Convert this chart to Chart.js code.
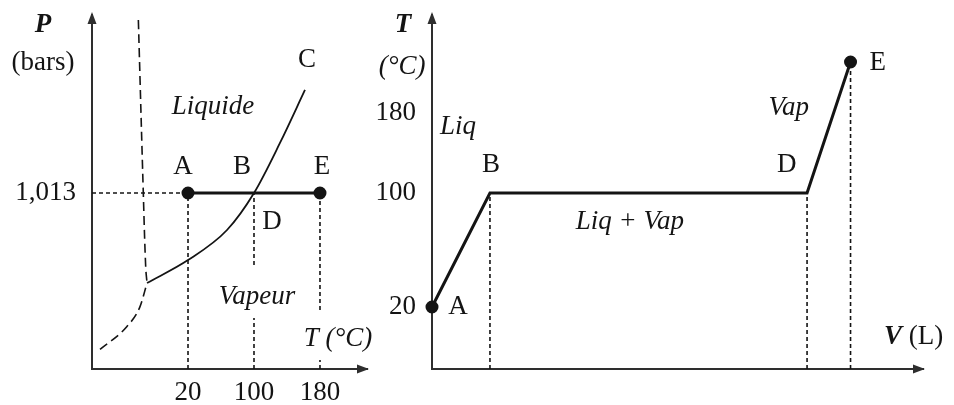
<!DOCTYPE html>
<html lang="fr">
<head>
<meta charset="utf-8">
<title>Diagramme de phases et courbe de chauffage de l'eau</title>
<script src="https://cdn.jsdelivr.net/npm/chart.js@4.4.1/dist/chart.umd.min.js"></script>
<style>
  html, body { margin: 0; padding: 0; background: #fff; }
  #wrap { position: relative; width: 954px; height: 405px; }
  #wrap canvas { position: absolute; left: 0; top: 0; }
</style>
</head>
<body>
<div id="wrap">
  <canvas id="phaseChart" width="954" height="405"></canvas>
  <canvas id="heatingChart" width="954" height="405"></canvas>
</div>
<script>
// left diagram: P (bars) against T (°C), schematic
const phaseTempTicks = [20, 100, 180];
const phasePressureTicks = [1.013];

const vapCurveT = [-29.7, 20, 67.3, 100, 131.5, 161.8];
const vapCurveP = [0.495, 0.627, 0.800, 1.013, 1.301, 1.606];
const fusCurveT = [-40.2, -34.2, -31.3, -29.7];
const fusCurveP = [2.009, 1.013, 0.587, 0.495];
const subCurveT = [-86.7, -54.3, -38.2, -29.7];
const subCurveP = [0.113, 0.243, 0.359, 0.495];

const isobarT = [20, 100, 180];   // A, B = D, E
const isobarP = 1.013;

// right diagram: T (°C) against V (L)
const heatingTempTicks = [20, 100, 180];
const heatingV = [0, 1, 6.47, 7.22];   // A, B, D, E
const heatingT = [20, 100, 100, 231];

const INK = '#141414';
const AXIS = '#2e2e2e';
const FONT = '"Liberation Serif", "Times New Roman", serif';

const pts = (xs, ys) => xs.map((x, i) => ({ x: x, y: Array.isArray(ys) ? ys[i] : ys }));
const seg = (x1, y1, x2, y2) => [{ x: x1, y: y1 }, { x: x2, y: y2 }];
const frenchNum = v => String(v).replace('.', ',');

// linear between fixed stops, the right T axis is not drawn to scale
class PiecewiseScale extends Chart.LinearScale {
  static id = 'piecewise';
  _find(arr, key, v) {
    let i = 1;
    while (i < arr.length - 1 && v > arr[i][key]) i++;
    return [arr[i - 1], arr[i]];
  }
  getPixelForValue(value) {
    if (value === null || isNaN(value)) return NaN;
    const [a, b] = this._find(this.options.stops, 0, value);
    return this.getPixelForDecimal(a[1] + (value - a[0]) * (b[1] - a[1]) / (b[0] - a[0]));
  }
  getValueForPixel(pixel) {
    const d = this.getDecimalForPixel(pixel);
    const [a, b] = this._find(this.options.stops, 1, d);
    return a[0] + (d - a[1]) * (b[0] - a[0]) / (b[1] - a[1]);
  }
}
Chart.register(PiecewiseScale);

// fixed axis box, no extra padding for the tick labels
const fixBox = (w, h) => s => {
  if (w !== null) s.width = w;
  if (h !== null) s.height = h;
  s.paddingTop = s.paddingBottom = s.paddingLeft = s.paddingRight = 0;
};

const arrowPlugin = {
  id: 'axisArrows',
  afterDraw(chart) {
    const { ctx, chartArea: a } = chart;
    ctx.save();
    ctx.fillStyle = AXIS;
    ctx.beginPath();
    ctx.moveTo(a.left, a.top - 3);
    ctx.lineTo(a.left - 4.5, a.top + 9);
    ctx.lineTo(a.left + 4.5, a.top + 9);
    ctx.closePath();
    ctx.fill();
    ctx.beginPath();
    ctx.moveTo(a.right + 2, a.bottom);
    ctx.lineTo(a.right - 10, a.bottom - 4.5);
    ctx.lineTo(a.right - 10, a.bottom + 4.5);
    ctx.closePath();
    ctx.fill();
    ctx.restore();
  }
};

const textPlugin = {
  id: 'sketchText',
  afterDraw(chart, args, opts) {
    const { ctx, scales } = chart;
    ctx.save();
    ctx.fillStyle = INK;
    ctx.textBaseline = 'middle';
    ctx.textAlign = 'left';
    opts.items.forEach(item => {
      const px = scales.x.getPixelForValue(item.x);
      const py = scales.y.getPixelForValue(item.y);
      let total = 0;
      item.parts.forEach(p => {
        ctx.font = `${p[1]} 27px ${FONT}`;
        total += ctx.measureText(p[0]).width;
      });
      let cx = px - total / 2;
      item.parts.forEach(p => {
        ctx.font = `${p[1]} 27px ${FONT}`;
        ctx.fillText(p[0], cx, py);
        cx += ctx.measureText(p[0]).width;
      });
    });
    ctx.restore();
  }
};

const axisBase = {
  grid: { display: false },
  border: { display: true, color: AXIS, width: 2 }
};
const tickFont = { family: FONT, size: 27 };

const solid = (data, width, extra) => Object.assign({
  data: data, showLine: true, borderColor: INK, backgroundColor: INK,
  borderWidth: width, pointRadius: 0, clip: false
}, extra || {});
const dashed = (data, dash, width, extra) => solid(data, width, Object.assign({ borderDash: dash }, extra || {}));

// ---- left chart
const phaseMinT = -96.4;
const phaseGuides = [
  seg(phaseMinT, isobarP, isobarT[0], isobarP),
  seg(20, 0, 20, isobarP),
  seg(100, 0, 100, 0.294), seg(100, 0.599, 100, isobarP),
  seg(180, 0, 180, 0.052), seg(180, 0.340, 180, isobarP)
];

new Chart(document.getElementById('phaseChart'), {
  type: 'scatter',
  data: {
    datasets: [
      solid(pts(isobarT, isobarP), 3, { pointRadius: [5, 0, 5], pointHoverRadius: 0 }),
      solid(pts(vapCurveT, vapCurveP), 1.8, { cubicInterpolationMode: 'monotone' }),
      dashed(pts(fusCurveT, fusCurveP), [9, 5], 1.6, { tension: 0.4 }),
      dashed(pts(subCurveT, subCurveP), [9, 5], 1.6, { cubicInterpolationMode: 'monotone' })
    ].concat(phaseGuides.map(g => dashed(g, [4, 3], 1.6)))
  },
  options: {
    responsive: false,
    animation: false,
    events: [],
    layout: { padding: { left: 0, top: 15, right: 587, bottom: 0 } },
    scales: {
      x: Object.assign({}, axisBase, {
        type: 'linear', min: phaseMinT, max: 237,
        afterBuildTicks: s => { s.ticks = phaseTempTicks.map(v => ({ value: v })); },
        afterFit: fixBox(null, 36),
        ticks: { color: INK, font: tickFont, padding: 0, autoSkip: false, maxRotation: 0 }
      }),
      y: Object.assign({}, axisBase, {
        type: 'linear', min: 0, max: 2.0375,
        afterBuildTicks: s => { s.ticks = phasePressureTicks.map(v => ({ value: v })); },
        afterFit: fixBox(92, null),
        ticks: { color: INK, font: tickFont, padding: 8, autoSkip: false, callback: frenchNum }
      })
    },
    plugins: {
      legend: { display: false },
      tooltip: { enabled: false },
      sketchText: {
        items: [
          { parts: [['P', 'bold italic']], x: -155.8, y: 1.98 },
          { parts: [['(bars)', '']], x: -155.8, y: 1.761 },
          { parts: [['C', '']], x: 164.2, y: 1.779 },
          { parts: [['Liquide', 'italic']], x: 50.3, y: 1.508 },
          { parts: [['A', '']], x: 13.9, y: 1.163 },
          { parts: [['B', '']], x: 85.5, y: 1.163 },
          { parts: [['E', '']], x: 182.4, y: 1.163 },
          { parts: [['D', '']], x: 121.8, y: 0.846 },
          { parts: [['Vapeur', 'italic']], x: 103.6, y: 0.414 },
          { parts: [['T', 'italic'], [' (°C)', 'italic']], x: 201.8, y: 0.173 }
        ]
      }
    }
  },
  plugins: [arrowPlugin, textPlugin]
});

// ---- right chart
const heatingMinT = -23.5;
const heatingGuides = [1, 2, 3].map(i => seg(heatingV[i], heatingMinT, heatingV[i], heatingT[i]));

new Chart(document.getElementById('heatingChart'), {
  type: 'scatter',
  data: {
    datasets: [
      solid(pts(heatingV, heatingT), 3, { pointRadius: [5, 0, 0, 5], pointHoverRadius: 0 })
    ].concat(heatingGuides.map(g => dashed(g, [4, 3], 1.6)))
  },
  options: {
    responsive: false,
    animation: false,
    events: [],
    layout: { padding: { left: 372, top: 15, right: 31, bottom: 0 } },
    scales: {
      x: Object.assign({}, axisBase, {
        type: 'linear', min: 0, max: 8.47,
        afterFit: fixBox(null, 36),
        ticks: { display: false }
      }),
      y: Object.assign({}, axisBase, {
        type: 'piecewise', min: heatingMinT, max: 278,
        stops: [[heatingMinT, 0], [20, 0.1751], [100, 0.4972], [180, 0.7232], [278, 1]],
        afterBuildTicks: s => { s.ticks = heatingTempTicks.map(v => ({ value: v })); },
        afterFit: fixBox(60, null),
        ticks: { color: INK, font: tickFont, padding: 8, autoSkip: false }
      })
    },
    plugins: {
      legend: { display: false },
      tooltip: { enabled: false },
      sketchText: {
        items: [
          { parts: [['T', 'bold italic']], x: -0.5, y: 268 },
          { parts: [['(°C)', 'italic']], x: -0.517, y: 226 },
          { parts: [['Liq', 'italic']], x: 0.448, y: 166 },
          { parts: [['B', '']], x: 1.017, y: 128 },
          { parts: [['D', '']], x: 6.12, y: 128 },
          { parts: [['Liq + Vap', 'italic']], x: 3.414, y: 79.6 },
          { parts: [['Vap', 'italic']], x: 6.155, y: 185 },
          { parts: [['E', '']], x: 7.69, y: 230 },
          { parts: [['A', '']], x: 0.448, y: 20 },
          { parts: [['V', 'bold italic'], [' (L)', '']], x: 8.31, y: -1.05 }
        ]
      }
    }
  },
  plugins: [arrowPlugin, textPlugin]
});
</script>
</body>
</html>
